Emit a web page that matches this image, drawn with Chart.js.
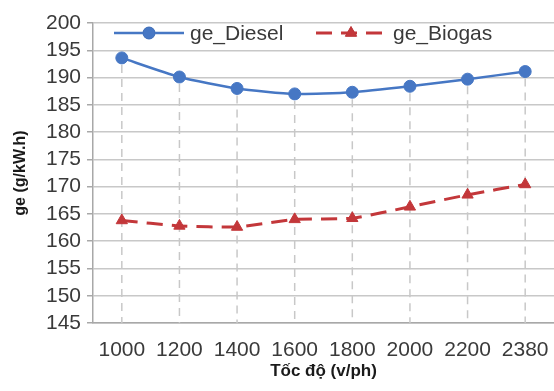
<!DOCTYPE html>
<html>
<head>
<meta charset="utf-8">
<script src="https://cdn.jsdelivr.net/npm/chart.js@4.4.1/dist/chart.umd.min.js"></script>
<style>
  html, body { margin: 0; padding: 0; background: #ffffff; overflow: hidden; }
  #wrap { width: 554px; height: 391px; position: relative; }
  #c { display: block; }
</style>
</head>
<body>
<div id="wrap"><canvas id="c"></canvas></div>
<script>
// Engine speed (rpm) and specific fuel consumption for both fuels
const speeds = ['1000', '1200', '1400', '1600', '1800', '2000', '2200', '2380'];
const geDiesel = [193.6, 190.1, 188.0, 187.0, 187.3, 188.4, 189.7, 191.1];
const geBiogas = [163.8, 162.8, 162.6, 164.0, 164.2, 166.3, 168.5, 170.4];
const yTicks = [145, 150, 155, 160, 165, 170, 175, 180, 185, 190, 195, 200];

const seriesNames = ['ge_Diesel', 'ge_Biogas'];
const blue = '#4677c4';
const red = '#c3373a';
const gridGray = '#c8c8c8';
const textGray = '#3a3a3a';
const tickFont = { family: 'Liberation Sans, Arial, sans-serif', size: 21 };

// Let the plot run all the way to the right edge of the canvas
const fullWidth = {
  id: 'fullWidth',
  afterLayout(chart) {
    const area = chart.chartArea;
    const x = chart.scales.x;
    area.right = chart.width;
    area.width = area.right - area.left;
    x.right = chart.width;
    x.width = x.right - x.left;
    x.configure();
    x._labelItems = null;
    x._gridLineItems = null;
    chart.scales.y._gridLineItems = null;
  }
};

// Dashed drop lines from each diesel point down to the category axis
const dropLines = {
  id: 'dropLines',
  beforeDatasetsDraw(chart) {
    const { ctx, chartArea, scales } = chart;
    ctx.save();
    ctx.strokeStyle = gridGray;
    ctx.lineWidth = 1.5;
    ctx.setLineDash([8, 6]);
    speeds.forEach((s, i) => {
      const x = scales.x.getPixelForValue(i);
      const y = scales.y.getPixelForValue(geDiesel[i]);
      ctx.beginPath();
      ctx.moveTo(x, y + 7);
      ctx.lineTo(x, chartArea.bottom);
      ctx.stroke();
    });
    ctx.restore();
  }
};

// Legend drawn inside the plot: line sample with its marker, then the name
const innerLegend = {
  id: 'innerLegend',
  afterDatasetsDraw(chart) {
    const { ctx } = chart;
    const items = [
      { x0: 114, x1: 184, tx: 190, color: blue, dash: [], width: 2.5, style: 'circle', r: 6 },
      { x0: 316, x1: 386, tx: 393, color: red, dash: [16, 9], width: 3, style: 'triangle', r: 6.5 }
    ];
    const ly = 33;
    ctx.save();
    items.forEach((it, i) => {
      ctx.strokeStyle = it.color;
      ctx.lineWidth = it.width;
      ctx.setLineDash(it.dash);
      ctx.beginPath();
      ctx.moveTo(it.x0, ly);
      ctx.lineTo(it.x1, ly);
      ctx.stroke();
      ctx.setLineDash([]);
      ctx.lineWidth = 1;
      Chart.helpers.drawPoint(ctx, {
        pointStyle: it.style, radius: it.r, borderWidth: 1, rotation: 0
      }, (it.x0 + it.x1) / 2, ly);
      ctx.fillStyle = it.color;
      ctx.fill();
      ctx.fillStyle = textGray;
      ctx.font = '21px "Liberation Sans", Arial, sans-serif';
      ctx.textBaseline = 'middle';
      ctx.textAlign = 'left';
      ctx.fillText(seriesNames[i], it.tx, ly + 1);
    });
    ctx.restore();
  }
};

new Chart(document.getElementById('c'), {
  type: 'line',
  data: {
    labels: speeds,
    datasets: [
      {
        label: seriesNames[0],
        data: geDiesel,
        borderColor: blue,
        backgroundColor: blue,
        borderWidth: 2.5,
        pointStyle: 'circle',
        pointRadius: 6,
        pointBorderWidth: 1,
        tension: 0.2
      },
      {
        label: seriesNames[1],
        data: geBiogas,
        borderColor: red,
        backgroundColor: red,
        borderWidth: 3,
        borderDash: [16, 9],
        pointStyle: 'triangle',
        pointRadius: 6.5,
        pointBorderWidth: 1,
        tension: 0.15
      }
    ]
  },
  options: {
    responsive: true,
    maintainAspectRatio: false,
    animation: false,
    layout: { padding: { top: 23, right: 0, left: 0, bottom: 0 } },
    plugins: { legend: { display: false }, tooltip: { enabled: false } },
    scales: {
      x: {
        offset: true,
        grid: { display: false, drawTicks: true, tickLength: 14 },
        border: { display: true, color: '#a8a8a8', width: 1.5 },
        ticks: { color: textGray, font: tickFont, padding: 1, maxRotation: 0, autoSkip: false },
        title: {
          display: true,
          text: 'Tốc độ (v/ph)',
          color: '#1a1a1a',
          font: { family: 'Liberation Sans, Arial, sans-serif', size: 17, weight: 'bold' },
          padding: { top: 0, bottom: 9 }
        },
        afterFit(scale) { scale.height = 68; }
      },
      y: {
        min: 145,
        max: 200,
        afterBuildTicks(scale) { scale.ticks = yTicks.map(v => ({ value: v })); },
        grid: {
          color: gridGray,
          lineWidth: 1.5,
          borderDash: [8, 6],
          drawTicks: true,
          tickLength: 6,
          tickColor: '#a8a8a8',
          tickBorderDash: []
        },
        border: { display: true, color: '#a8a8a8', width: 1.5 },
        ticks: { color: textGray, font: tickFont, padding: 6, autoSkip: false },
        title: {
          display: true,
          text: 'ge (g/kW.h)',
          color: '#1a1a1a',
          font: { family: 'Liberation Sans, Arial, sans-serif', size: 16, weight: 'bold' },
          padding: { top: 11, bottom: 0 }
        },
        afterFit(scale) { scale.width = 93; }
      }
    }
  },
  plugins: [fullWidth, dropLines, innerLegend]
});
</script>
</body>
</html>
